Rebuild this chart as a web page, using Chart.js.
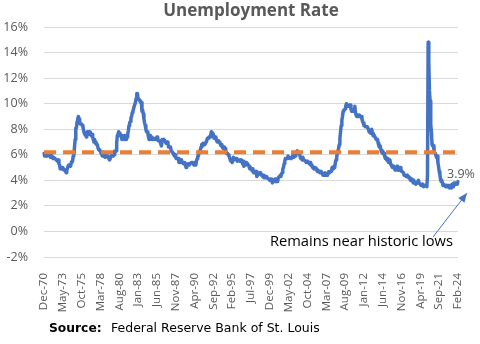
<!DOCTYPE html>
<html>
<head>
<meta charset="utf-8">
<script src="https://cdn.jsdelivr.net/npm/chart.js@4.4.1/dist/chart.umd.min.js"></script>
<style>
  html, body { margin: 0; padding: 0; background: #fff; }
  #wrap { position: relative; width: 480px; height: 344px; }
</style>
</head>
<body>
<div id="wrap"><canvas id="chart" width="480" height="344"></canvas></div>
<script>
// Tick labels shown on the x axis (every 29 months)
const tickLabels = ["Dec-70", "May-73", "Oct-75", "Mar-78", "Aug-80", "Jan-83", "Jun-85", "Nov-87",
    "Apr-90", "Sep-92", "Feb-95", "Jul-97", "Dec-99", "May-02", "Oct-04", "Mar-07", "Aug-09",
    "Jan-12", "Jun-14", "Nov-16", "Apr-19", "Sep-21", "Feb-24"];

// Monthly unemployment rate (%), Dec 1970 - Feb 2024
const rates = [
    6.1,
    5.9, 5.9, 6.0, 5.9, 5.9, 5.9, 6.0, 6.1, 6.0, 5.8, 6.0, 6.0,        // 1971
    5.8, 5.7, 5.8, 5.7, 5.7, 5.7, 5.6, 5.6, 5.5, 5.6, 5.3, 5.2,        // 1972
    4.9, 5.0, 4.9, 5.0, 4.9, 4.9, 4.8, 4.8, 4.8, 4.6, 4.8, 4.9,        // 1973
    5.1, 5.2, 5.1, 5.1, 5.1, 5.4, 5.5, 5.5, 5.9, 6.0, 6.6, 7.2,        // 1974
    8.1, 8.1, 8.6, 8.8, 9.0, 8.8, 8.6, 8.4, 8.4, 8.4, 8.3, 8.2,        // 1975
    7.9, 7.7, 7.6, 7.7, 7.4, 7.6, 7.8, 7.8, 7.6, 7.7, 7.8, 7.8,        // 1976
    7.5, 7.6, 7.4, 7.2, 7.0, 7.2, 6.9, 7.0, 6.8, 6.8, 6.8, 6.4,        // 1977
    6.4, 6.3, 6.3, 6.1, 6.0, 5.9, 6.2, 5.9, 6.0, 5.8, 5.9, 6.0,        // 1978
    5.9, 5.9, 5.8, 5.8, 5.6, 5.7, 5.7, 6.0, 5.9, 6.0, 5.9, 6.0,        // 1979
    6.3, 6.3, 6.3, 6.9, 7.5, 7.6, 7.8, 7.7, 7.5, 7.5, 7.5, 7.2,        // 1980
    7.5, 7.4, 7.4, 7.2, 7.5, 7.5, 7.2, 7.4, 7.6, 7.9, 8.3, 8.5,        // 1981
    8.6, 8.9, 9.0, 9.3, 9.4, 9.6, 9.8, 9.8, 10.1, 10.4, 10.8, 10.8,    // 1982
    10.4, 10.4, 10.3, 10.2, 10.1, 10.1, 9.4, 9.5, 9.2, 8.8, 8.5, 8.3,  // 1983
    8.0, 7.8, 7.8, 7.7, 7.4, 7.2, 7.5, 7.5, 7.3, 7.4, 7.2, 7.3,        // 1984
    7.3, 7.2, 7.2, 7.3, 7.2, 7.4, 7.4, 7.1, 7.1, 7.1, 7.0, 7.0,        // 1985
    6.7, 7.2, 7.2, 7.1, 7.2, 7.2, 7.0, 6.9, 7.0, 7.0, 6.9, 6.6,        // 1986
    6.6, 6.6, 6.6, 6.3, 6.3, 6.2, 6.1, 6.0, 5.9, 6.0, 5.8, 5.7,        // 1987
    5.7, 5.7, 5.7, 5.4, 5.6, 5.4, 5.4, 5.6, 5.4, 5.4, 5.3, 5.3,        // 1988
    5.4, 5.2, 5.0, 5.2, 5.2, 5.3, 5.2, 5.2, 5.3, 5.3, 5.4, 5.4,        // 1989
    5.4, 5.3, 5.2, 5.4, 5.4, 5.2, 5.5, 5.7, 5.9, 5.9, 6.2, 6.3,        // 1990
    6.4, 6.6, 6.8, 6.7, 6.9, 6.9, 6.8, 6.9, 6.9, 7.0, 7.0, 7.3,        // 1991
    7.3, 7.4, 7.4, 7.4, 7.6, 7.8, 7.7, 7.6, 7.6, 7.3, 7.4, 7.4,        // 1992
    7.3, 7.1, 7.0, 7.1, 7.1, 7.0, 6.9, 6.8, 6.7, 6.8, 6.6, 6.5,        // 1993
    6.6, 6.6, 6.5, 6.4, 6.1, 6.1, 6.1, 6.0, 5.9, 5.8, 5.6, 5.5,        // 1994
    5.6, 5.4, 5.4, 5.8, 5.6, 5.6, 5.7, 5.7, 5.6, 5.5, 5.6, 5.6,        // 1995
    5.6, 5.5, 5.5, 5.6, 5.6, 5.3, 5.5, 5.1, 5.2, 5.2, 5.4, 5.4,        // 1996
    5.3, 5.2, 5.2, 5.1, 4.9, 5.0, 4.9, 4.8, 4.9, 4.7, 4.6, 4.7,        // 1997
    4.6, 4.6, 4.7, 4.3, 4.4, 4.5, 4.5, 4.5, 4.6, 4.5, 4.4, 4.4,        // 1998
    4.3, 4.4, 4.2, 4.3, 4.2, 4.3, 4.3, 4.2, 4.2, 4.1, 4.1, 4.0,        // 1999
    4.0, 4.1, 4.0, 3.8, 4.0, 4.0, 4.0, 4.1, 3.9, 3.9, 3.9, 3.9,        // 2000
    4.2, 4.2, 4.3, 4.4, 4.3, 4.5, 4.6, 4.9, 5.0, 5.3, 5.5, 5.7,        // 2001
    5.7, 5.7, 5.7, 5.9, 5.8, 5.8, 5.8, 5.7, 5.7, 5.7, 5.9, 6.0,        // 2002
    5.8, 5.9, 5.9, 6.0, 6.1, 6.3, 6.2, 6.1, 6.1, 6.0, 5.8, 5.7,        // 2003
    5.7, 5.6, 5.8, 5.6, 5.6, 5.6, 5.5, 5.4, 5.4, 5.5, 5.4, 5.4,        // 2004
    5.3, 5.4, 5.2, 5.2, 5.1, 5.0, 5.0, 4.9, 5.0, 5.0, 5.0, 4.9,        // 2005
    4.7, 4.8, 4.7, 4.7, 4.6, 4.6, 4.7, 4.7, 4.5, 4.4, 4.5, 4.4,        // 2006
    4.6, 4.5, 4.4, 4.5, 4.4, 4.6, 4.7, 4.6, 4.7, 4.7, 4.7, 5.0,        // 2007
    5.0, 4.9, 5.1, 5.0, 5.4, 5.6, 5.8, 6.1, 6.1, 6.5, 6.8, 7.3,        // 2008
    7.8, 8.3, 8.7, 9.0, 9.4, 9.5, 9.5, 9.6, 9.8, 10.0, 9.9, 9.9,       // 2009
    9.8, 9.8, 9.9, 9.9, 9.6, 9.4, 9.4, 9.5, 9.5, 9.4, 9.8, 9.3,        // 2010
    9.1, 9.0, 9.0, 9.1, 9.0, 9.1, 9.0, 9.0, 9.0, 8.8, 8.6, 8.5,        // 2011
    8.3, 8.3, 8.2, 8.2, 8.2, 8.2, 8.2, 8.0, 7.8, 7.8, 7.7, 7.9,        // 2012
    8.0, 7.7, 7.5, 7.6, 7.5, 7.5, 7.3, 7.2, 7.2, 7.2, 6.9, 6.7,        // 2013
    6.6, 6.7, 6.7, 6.2, 6.3, 6.1, 6.2, 6.1, 5.9, 5.7, 5.8, 5.6,        // 2014
    5.7, 5.5, 5.4, 5.4, 5.6, 5.3, 5.2, 5.1, 5.0, 5.0, 5.1, 5.0,        // 2015
    4.8, 4.9, 5.0, 5.1, 4.8, 4.9, 4.8, 4.9, 5.0, 4.9, 4.7, 4.7,        // 2016
    4.7, 4.6, 4.4, 4.4, 4.4, 4.3, 4.3, 4.4, 4.3, 4.2, 4.2, 4.1,        // 2017
    4.0, 4.1, 4.0, 4.0, 3.8, 4.0, 3.8, 3.8, 3.7, 3.8, 3.8, 3.9,        // 2018
    4.0, 3.8, 3.8, 3.7, 3.6, 3.6, 3.7, 3.6, 3.5, 3.6, 3.6, 3.6,        // 2019
    3.6, 3.5, 4.4, 14.8, 13.2, 11.0, 10.2, 8.4, 7.8, 6.8, 6.7, 6.7,    // 2020
    6.4, 6.2, 6.1, 6.1, 5.8, 5.9, 5.4, 5.1, 4.7, 4.5, 4.1, 3.9,        // 2021
    4.0, 3.8, 3.6, 3.7, 3.6, 3.6, 3.5, 3.6, 3.5, 3.6, 3.6, 3.5,        // 2022
    3.4, 3.6, 3.5, 3.4, 3.7, 3.6, 3.5, 3.8, 3.8, 3.8, 3.7, 3.7,        // 2023
    3.7, 3.9                                                          // 2024
];

// Long-run average shown as the dashed line
const averageRate = 6.2;

// Month labels for the category axis
const monthNames = ["Jan", "Feb", "Mar", "Apr", "May", "Jun", "Jul", "Aug", "Sep", "Oct", "Nov", "Dec"];
const labels = [];
for (let i = 0; i < rates.length; i++) {
    const m = (11 + i) % 12;
    const y = 1970 + Math.floor((11 + i) / 12);
    labels.push(monthNames[m] + '-' + String(y % 100).padStart(2, '0'));
}

const GRAY = '#595959';

// title, labels and arrow
const extras = {
    id: 'extras',
    afterDraw(chart) {
        const { ctx, chartArea, scales } = chart;
        ctx.save();

        // title
        ctx.fillStyle = GRAY;
        ctx.font = 'bold 17px "Open Sans"';
        ctx.textAlign = 'center';
        ctx.textBaseline = 'middle';
        ctx.fillText('Unemployment Rate', (chartArea.left + chartArea.right) / 2, 11);

        // last value
        const last = rates.length - 1;
        const lx = scales.x.getPixelForValue(last);
        const ly = scales.y.getPixelForValue(rates[last]);
        ctx.font = '12.5px "Open Sans"';
        ctx.textAlign = 'left';
        ctx.fillText(rates[last].toFixed(1) + '%', lx - 11, ly - 7);

        // arrow
        const ax0 = 433, ay0 = 237, ax1 = 467, ay1 = 193;
        ctx.strokeStyle = '#4472C4';
        ctx.fillStyle = '#4472C4';
        ctx.lineWidth = 1;
        ctx.beginPath();
        ctx.moveTo(ax0, ay0);
        ctx.lineTo(ax1, ay1);
        ctx.stroke();
        const ang = Math.atan2(ay1 - ay0, ax1 - ax0);
        ctx.beginPath();
        ctx.moveTo(ax1, ay1);
        ctx.lineTo(ax1 - 10 * Math.cos(ang - 0.4), ay1 - 10 * Math.sin(ang - 0.4));
        ctx.lineTo(ax1 - 10 * Math.cos(ang + 0.4), ay1 - 10 * Math.sin(ang + 0.4));
        ctx.closePath();
        ctx.fill();

        // note
        ctx.fillStyle = '#000';
        ctx.font = '14.7px "Open Sans"';
        ctx.textAlign = 'right';
        ctx.fillText('Remains near historic lows', 453, 242);

        // source
        ctx.textAlign = 'left';
        ctx.font = 'bold 12.3px "DejaVu Sans"';
        ctx.fillText('Source:', 49, 329);
        ctx.font = '12.5px "DejaVu Sans"';
        ctx.fillText('Federal Reserve Bank of St. Louis', 111, 329);

        ctx.restore();
    }
};

const ctx = document.getElementById('chart').getContext('2d');
new Chart(ctx, {
    type: 'line',
    data: {
        labels: labels,
        datasets: [
            {
                label: 'Unemployment Rate',
                data: rates,
                borderColor: '#4472C4',
                borderWidth: 3.5,
                borderJoinStyle: 'round',
                borderCapStyle: 'round',
                pointRadius: 0,
                tension: 0,
                fill: false,
                order: 2
            },
            {
                label: 'Average',
                data: [{ x: labels[0], y: averageRate }, { x: labels[labels.length - 1], y: averageRate }],
                borderColor: '#ED7D31',
                borderWidth: 4,
                borderDash: [12, 7],
                pointRadius: 0,
                fill: false,
                order: 1
            }
        ]
    },
    options: {
        responsive: false,
        animation: false,
        layout: { padding: { top: 27, right: 22, left: 0, bottom: 0 } },
        plugins: {
            legend: { display: false },
            tooltip: { enabled: false },
            title: { display: false }
        },
        scales: {
            x: {
                type: 'category',
                offset: false,
                grid: { display: false },
                border: { display: false },
                ticks: {
                    autoSkip: false,
                    maxRotation: 90,
                    minRotation: 90,
                    padding: 8,
                    color: GRAY,
                    font: { family: 'Open Sans', size: 11.5 },
                    callback: function (value) {
                        const lab = this.getLabelForValue(value);
                        return tickLabels.includes(lab) ? lab : null;
                    }
                },
                afterFit: (axis) => { axis.height = 87; }
            },
            y: {
                min: -2,
                max: 16,
                grid: { color: '#D9D9D9', drawTicks: false, lineWidth: 1 },
                border: { display: false },
                ticks: {
                    stepSize: 2,
                    padding: 16,
                    color: GRAY,
                    font: { family: 'Open Sans', size: 12.5 },
                    callback: (v) => v + '%'
                },
                afterFit: (axis) => { axis.width = 44; }
            }
        }
    },
    plugins: [extras]
});
</script>
</body>
</html>
